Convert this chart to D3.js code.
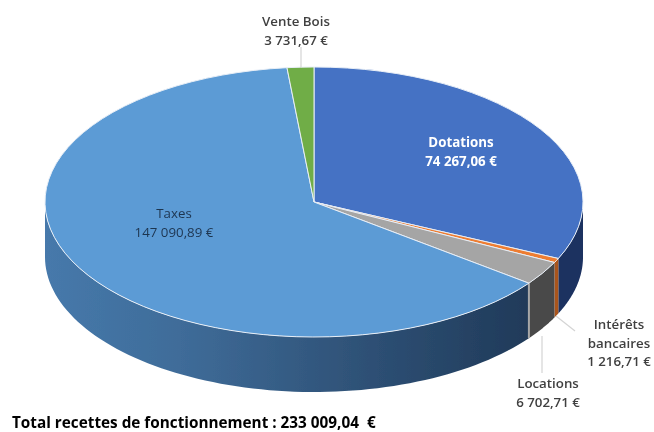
<!DOCTYPE html>
<meta charset="utf-8">
<title>Recettes de fonctionnement</title>
<style>
    body { margin: 0; background: #fff; }
    text { font-family: "Open Sans", sans-serif; font-size: 13.3px; text-anchor: middle; white-space: pre; }
</style>
<svg width="654" height="432"></svg>
<script src="https://d3js.org/d3.v7.min.js"></script>
<script>

    var categories = ["Dotations", "Intérêts bancaires", "Locations", "Taxes", "Vente Bois"];
    var values = [74267.06, 1216.71, 6702.71, 147090.89, 3731.67];
    var valueLabels = ["74 267,06 €", "1 216,71 €", "6 702,71 €", "147 090,89 €", "3 731,67 €"];
    var topColors = ["#4472c4", "#ed7d31", "#a5a5a5", "#5b9bd5", "#70ad47"];
    var totalLabel = "Total recettes de fonctionnement : 233 009,04  €";

    var svg = d3.select("svg"),
        cx = 314,
        cy = 202,
        rx = 269,
        ry = 135,
        depth = 55;

    var defs = svg.append("defs");

    // soft edges, the reference is a scanned jpeg
    defs.append("filter").attr("id", "soft")
        .append("feGaussianBlur").attr("stdDeviation", 0.45);

    function wallGradient(id, stops) {
        var g = defs.append("linearGradient").attr("id", id)
            .attr("gradientUnits", "userSpaceOnUse")
            .attr("x1", cx - rx).attr("x2", cx + rx).attr("y1", 0).attr("y2", 0);
        stops.forEach(function (s) {
            g.append("stop").attr("offset", s[0]).attr("stop-color", s[1]);
        });
    }
    wallGradient("wall0", [[0, "#1b3564"], [1, "#1b3060"]]);
    wallGradient("wall1", [[0, "#a9551f"], [1, "#a9551f"]]);
    wallGradient("wall2", [[0, "#484848"], [1, "#484848"]]);
    wallGradient("wall3", [[0, "#4679ab"], [0.25, "#3f6c99"], [0.55, "#30547a"], [0.9, "#203a59"], [1, "#203a59"]]);
    wallGradient("wall4", [[0, "#4a7a30"], [1, "#4a7a30"]]);

    var pie = d3.pie().sort(null).value(function (d) { return d; });
    var slices = pie(values);

    var chart = svg.append("g").attr("filter", "url(#soft)");

    // angle 0 is at the top and goes clockwise, like d3.arc
    function px(a) { return cx + rx * Math.sin(a); }
    function py(a) { return cy - ry * Math.cos(a); }

    var wall = d3.area()
        .x(function (a) { return px(a); })
        .y0(function (a) { return py(a); })
        .y1(function (a) { return py(a) + depth; });

    // only the part of each slice between 90 and 270 degrees faces the viewer
    slices.forEach(function (s, i) {
        var a0 = Math.max(s.startAngle, Math.PI / 2),
            a1 = Math.min(s.endAngle, Math.PI * 1.5);
        if (a1 <= a0) return;
        var angles = d3.range(0, 81).map(function (k) { return a0 + (a1 - a0) * k / 80; });
        chart.append("path")
            .attr("d", wall(angles))
            .attr("fill", "url(#wall" + i + ")");
    });

    // light edge between the locations and taxes walls
    var edge = slices[2].endAngle;
    chart.append("line")
        .attr("x1", px(edge)).attr("x2", px(edge))
        .attr("y1", py(edge)).attr("y2", py(edge) + depth)
        .attr("stroke", "#a8a8a8")
        .attr("stroke-width", 2);

    var arc = d3.arc().innerRadius(0).outerRadius(rx);

    chart.append("g")
        .attr("transform", "translate(" + cx + "," + cy + ") scale(1," + (ry / rx) + ")")
        .selectAll("path")
        .data(slices)
        .enter().append("path")
        .attr("d", arc)
        .attr("fill", function (d, i) { return topColors[i]; })
        .attr("stroke", "#e8eef6")
        .attr("stroke-width", 1)
        .attr("vector-effect", "non-scaling-stroke");

    // leader lines
    var leaders = [
        [[301, 47], [301, 67]],
        [[556, 316], [575, 331]],
        [[542, 336], [542, 373]]
    ];
    chart.selectAll("path.leader")
        .data(leaders)
        .enter().append("path")
        .attr("class", "leader")
        .attr("d", d3.line())
        .attr("fill", "none")
        .attr("stroke", "#d4d4d4")
        .attr("stroke-width", 1.2);

    // label blocks: lines of text, centre x, first baseline, colour, weight
    var labels = [
        { lines: [categories[4], valueLabels[4]], x: 296, y: 26, fill: "#404040", weight: 600 },
        { lines: [categories[0], valueLabels[0]], x: 461, y: 147, fill: "#ffffff", weight: 700 },
        { lines: [categories[3], valueLabels[3]], x: 174, y: 218, fill: "#1f3550", weight: 400 },
        { lines: ["Intérêts", "bancaires", valueLabels[1]], x: 619, y: 329, fill: "#404040", weight: 600 },
        { lines: [categories[2], valueLabels[2]], x: 548, y: 388, fill: "#404040", weight: 600 }
    ];

    labels.forEach(function (l) {
        l.lines.forEach(function (t, i) {
            chart.append("text")
                .attr("x", l.x)
                .attr("y", l.y + i * 18.5)
                .attr("fill", l.fill)
                .attr("font-weight", l.weight)
                .text(t);
        });
    });

    chart.append("text")
        .attr("x", 12)
        .attr("y", 428)
        .attr("fill", "#000")
        .attr("font-weight", 700)
        .style("text-anchor", "start")
        .style("font-size", "15.3px")
        .text(totalLabel);

</script>
